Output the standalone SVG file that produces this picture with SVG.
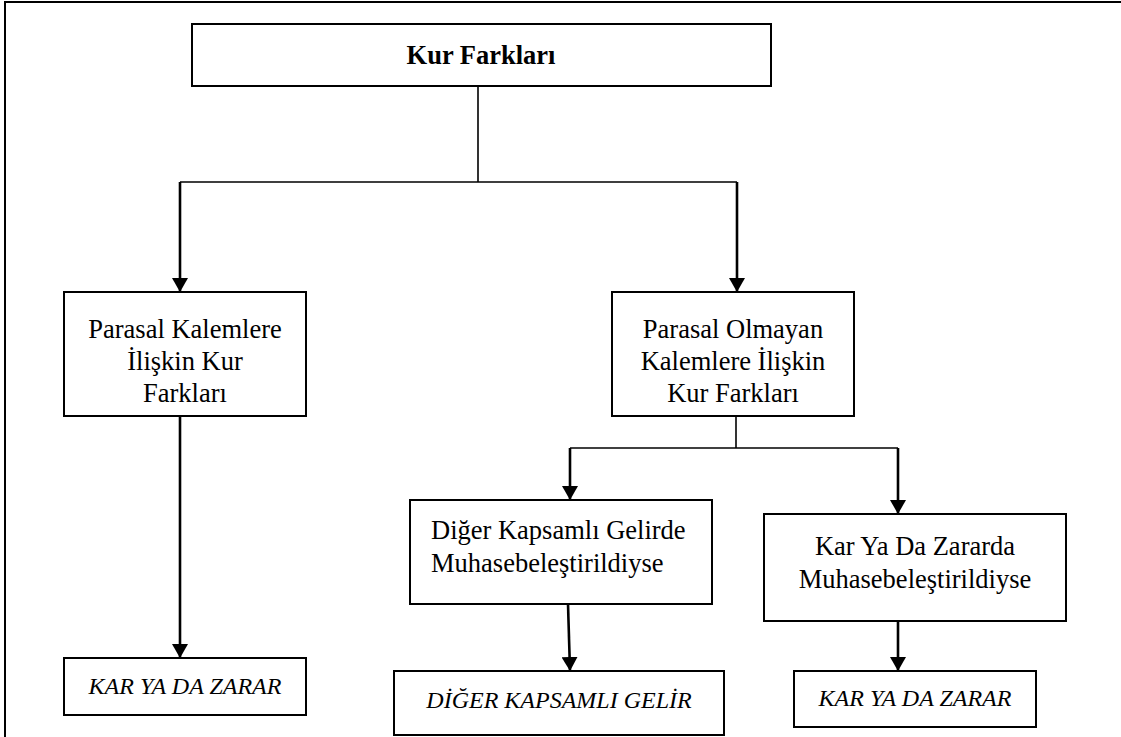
<svg xmlns="http://www.w3.org/2000/svg" width="1121" height="737" viewBox="0 0 1121 737">
<style>
.box{fill:#fff;stroke:#000;stroke-width:2}
.t{font-family:"Liberation Serif","Times New Roman",serif;font-size:26.5px;fill:#000}
.c{text-anchor:middle}
.b{font-weight:bold}
.i{font-style:italic;font-size:24px}
.thin{fill:none;stroke:#000;stroke-width:1.6}
.thick{fill:none;stroke:#000;stroke-width:2.6}
</style>
<defs>
<marker id="ah" viewBox="0 0 14 16" refX="14" refY="8" markerWidth="14" markerHeight="16" markerUnits="userSpaceOnUse" orient="auto">
<path d="M0,0 L14,8 L0,16 z" fill="#000"/>
</marker>
</defs>
<rect x="5" y="2" width="1300" height="900" fill="none" stroke="#000" stroke-width="2"/>
<g id="connectors">
<path class="thin" d="M478,86 V182 M180,182 H737"/>
<path class="thick" d="M180,182 V292" marker-end="url(#ah)"/>
<path class="thick" d="M737,182 V292" marker-end="url(#ah)"/>
<path class="thick" d="M180,416 V658" marker-end="url(#ah)"/>
<path class="thin" d="M736,416 V448"/>
<path class="thin" stroke-width="2" d="M570,448 H898"/>
<path class="thick" d="M570,448 V500" marker-end="url(#ah)"/>
<path class="thick" d="M898,448 V514" marker-end="url(#ah)"/>
<path class="thick" d="M568,604 L570,671" marker-end="url(#ah)"/>
<path class="thick" d="M898,616 V671" marker-end="url(#ah)"/>
</g>
<g id="n-kur">
<rect class="box" x="192" y="24" width="579" height="62"/>
<text class="t c b" x="481" y="64">Kur Farkları</text>
</g>
<g id="n-parasal">
<rect class="box" x="64" y="292" width="242" height="124"/>
<text class="t c" x="185" y="338">Parasal Kalemlere</text>
<text class="t c" x="185" y="370">İlişkin Kur</text>
<text class="t c" x="185" y="402">Farkları</text>
</g>
<g id="n-parasal-olmayan">
<rect class="box" x="612" y="292" width="242" height="124"/>
<text class="t c" x="733" y="338">Parasal Olmayan</text>
<text class="t c" x="733" y="370">Kalemlere İlişkin</text>
<text class="t c" x="733" y="402">Kur Farkları</text>
</g>
<g id="n-diger">
<rect class="box" x="410" y="500" width="302" height="104"/>
<text class="t" x="431" y="539">Diğer Kapsamlı Gelirde</text>
<text class="t" x="431" y="572">Muhasebeleştirildiyse</text>
</g>
<g id="n-kar-zararda">
<rect class="box" x="764" y="514" width="302" height="107"/>
<text class="t c" x="915" y="555">Kar Ya Da Zararda</text>
<text class="t c" x="915" y="588">Muhasebeleştirildiyse</text>
</g>
<g id="n-kar-1">
<rect class="box" x="64" y="658" width="242" height="57"/>
<text class="t c i" x="185" y="694">KAR YA DA ZARAR</text>
</g>
<g id="n-diger-gelir">
<rect class="box" x="394" y="671" width="330" height="64"/>
<text class="t c i" x="559" y="708">DİĞER KAPSAMLI GELİR</text>
</g>
<g id="n-kar-2">
<rect class="box" x="794" y="671" width="242" height="56"/>
<text class="t c i" x="915" y="706">KAR YA DA ZARAR</text>
</g>
</svg>
